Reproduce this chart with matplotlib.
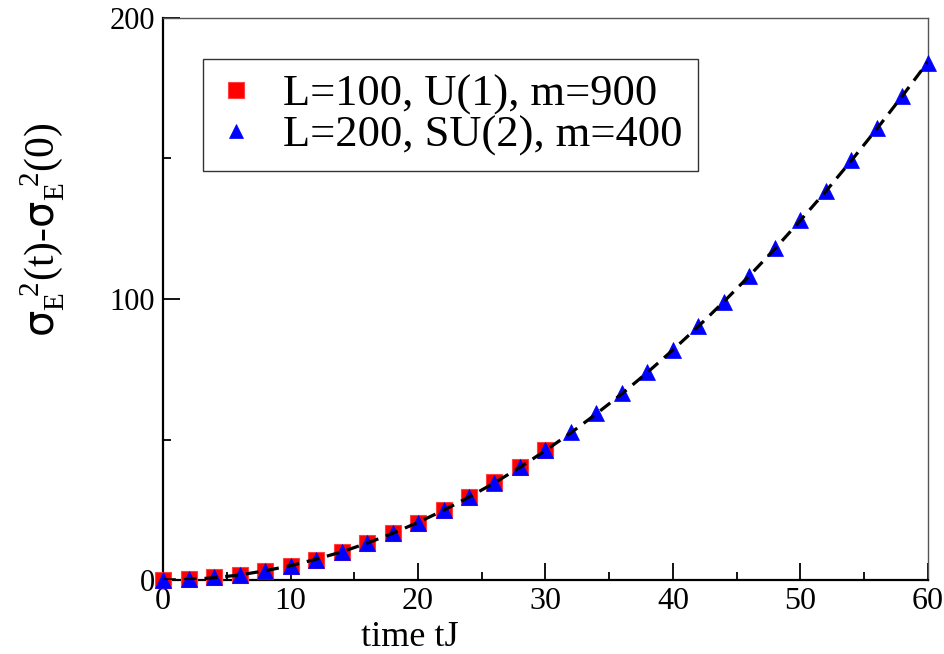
import matplotlib
matplotlib.use("Agg")
import matplotlib.pyplot as plt
from matplotlib.ticker import MultipleLocator

plt.rcParams["font.family"] = ["Liberation Serif", "DejaVu Serif"]
plt.rcParams["mathtext.fontset"] = "custom"
plt.rcParams["mathtext.rm"] = "Liberation Serif"
plt.rcParams["mathtext.it"] = "Liberation Serif:italic"
plt.rcParams["mathtext.sf"] = "DejaVu Sans"

# L=100, U(1), m=900 (red squares)
t_u1 = [0, 2, 4, 6, 8, 10, 12, 14, 16, 18, 20, 22, 24, 26, 28, 30]
var_u1 = [0.0, 0.4, 1.0, 1.8, 3.2, 5.1, 7.2, 10.0, 13.0, 16.6, 20.4, 24.9, 29.6, 34.8, 40.3, 46.3]

# L=200, SU(2), m=400 (blue triangles)
t_su2 = [0, 2, 4, 6, 8, 10, 12, 14, 16, 18, 20, 22, 24, 26, 28, 30,
         32, 34, 36, 38, 40, 42, 44, 46, 48, 50, 52, 54, 56, 58, 60]
var_su2 = [0.0, 0.4, 1.0, 1.9, 3.3, 5.1, 7.3, 10.0, 13.1, 16.6, 20.4, 24.8, 29.5, 34.7, 40.2, 46.2,
           52.6, 59.3, 66.7, 74.1, 81.9, 90.4, 99.0, 108.2, 118.0, 128.1, 138.5, 149.5, 160.7, 172.2, 184.1]

# dashed fit curve
t_fit = t_su2
var_fit = [0.0, 0.2, 0.8, 1.8, 3.3, 5.1, 7.4, 10.0, 13.1, 16.6, 20.5, 24.8, 29.5, 34.6, 40.1, 46.1,
           52.4, 59.2, 66.3, 73.9, 81.9, 90.3, 99.1, 108.3, 117.9, 128.0, 138.4, 149.3, 160.6, 172.3, 184.4]

labels = ["L=100, U(1), m=900", "L=200, SU(2), m=400"]

fig = plt.figure(figsize=(9.44, 6.54), dpi=100)
ax = fig.add_axes([0.1727, 0.1131, 0.8103, 0.8594])

ax.plot(t_u1, var_u1, ls="none", marker="s", ms=12, color="#ff0000", mec="#ff4040", mew=0.8,
        label=labels[0], clip_on=False, zorder=3)
ax.plot(t_su2, var_su2, ls="none", marker="^", ms=11, color="#0000ff", mec="#0000ff", mew=0.5,
        label=labels[1], clip_on=False, zorder=4)
ax.plot(t_fit, var_fit, ls=(0, (4.0, 2.5)), color="black", lw=2.3, zorder=5)

ax.set_xlim(0, 60)
ax.set_ylim(0, 200)
ax.xaxis.set_major_locator(MultipleLocator(10))
ax.xaxis.set_minor_locator(MultipleLocator(5))
ax.yaxis.set_major_locator(MultipleLocator(100))
ax.yaxis.set_minor_locator(MultipleLocator(50))
ax.tick_params(which="both", direction="in", top=False, right=False, width=1.3)
ax.tick_params(which="major", length=12)
ax.tick_params(which="minor", length=6)
ax.tick_params(axis="x", labelsize=23, pad=5)
ax.tick_params(axis="y", labelsize=22, pad=6)

for side in ["left", "bottom"]:
    ax.spines[side].set_linewidth(1.6)
for side in ["top", "right"]:
    ax.spines[side].set_linewidth(1.0)
    ax.spines[side].set_color("#555555")

ax.set_xlabel("time tJ", fontsize=26, va="center")
ax.xaxis.set_label_coords(0.323, -0.103)
ax.set_ylabel(r"$\mathsf{\sigma}_{\mathrm{E}}^{\ \ 2}\mathrm{(t)}$-$\mathsf{\sigma}_{\mathrm{E}}^{\ \ 2}\mathrm{(0)}$",
              fontsize=30, va="center")
ax.yaxis.set_label_coords(-0.158, 0.623)

leg = ax.legend(loc="upper left", bbox_to_anchor=(0.052, 0.927), borderaxespad=0,
                fontsize=32, frameon=True, fancybox=False, edgecolor="black",
                handlelength=0.8, handletextpad=0.65, borderpad=0.35, labelspacing=0.0,
                markerscale=0.95)
leg.get_frame().set_linewidth(1.0)

fig.savefig("out.png", dpi=100)
